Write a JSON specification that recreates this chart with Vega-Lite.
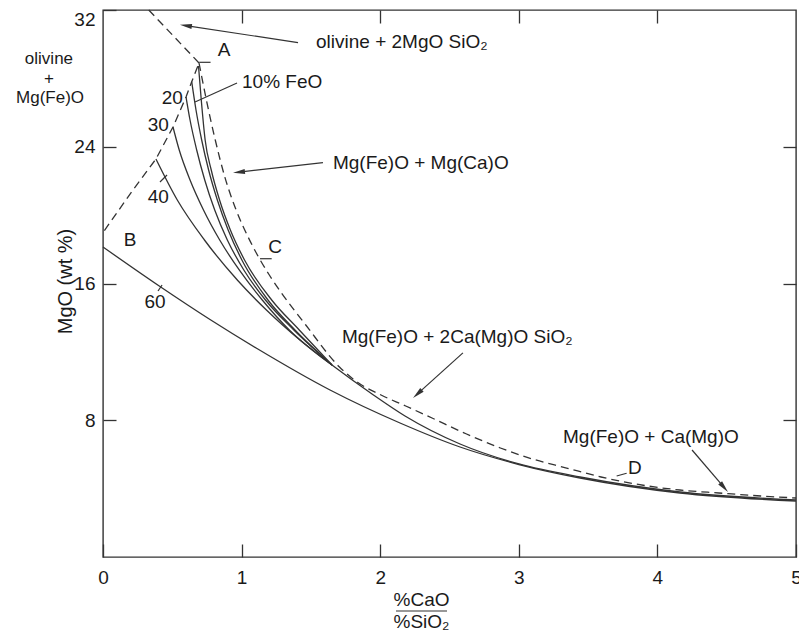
{
  "$schema": "https://vega.github.io/schema/vega-lite/v6.json",
  "width": 693,
  "height": 547,
  "autosize": "none",
  "padding": {"left": 103, "top": 10, "right": 3, "bottom": 79},
  "background": "white",
  "config": {
    "font": "Liberation Sans",
    "view": {"stroke": "#333", "strokeWidth": 1.4},
    "axis": {
      "grid": false, "domain": false, "tickColor": "#333", "tickWidth": 1.3, "tickSize": -13,
      "labelFont": "Liberation Sans", "labelFontSize": 19, "labelColor": "#1a1a1a",
      "titleFont": "Liberation Sans", "titleFontSize": 19, "titleFontWeight": "normal", "titleColor": "#1a1a1a"
    }
  },
  "datasets": {
    "solid": [
      {"curve": "60", "x": 0.0, "y": 18.135}, {"curve": "60", "x": 0.411, "y": 15.824}, {"curve": "60", "x": 0.772, "y": 13.894},
      {"curve": "60", "x": 1.111, "y": 12.197}, {"curve": "60", "x": 1.638, "y": 9.77}, {"curve": "60", "x": 2.143, "y": 7.839},
      {"curve": "60", "x": 2.576, "y": 6.435}, {"curve": "60", "x": 3.001, "y": 5.411}, {"curve": "60", "x": 3.442, "y": 4.622},
      {"curve": "60", "x": 4.163, "y": 3.744}, {"curve": "60", "x": 5.0, "y": 3.276},
      {"curve": "40", "x": 0.382, "y": 23.283}, {"curve": "40", "x": 0.536, "y": 20.885}, {"curve": "40", "x": 0.732, "y": 18.545},
      {"curve": "40", "x": 0.969, "y": 16.205}, {"curve": "40", "x": 1.179, "y": 14.45}, {"curve": "40", "x": 1.421, "y": 12.695},
      {"curve": "40", "x": 1.652, "y": 11.232}, {"curve": "40", "x": 1.941, "y": 9.536}, {"curve": "40", "x": 2.179, "y": 8.249},
      {"curve": "40", "x": 2.576, "y": 6.611}, {"curve": "40", "x": 3.001, "y": 5.441}, {"curve": "40", "x": 3.442, "y": 4.68},
      {"curve": "40", "x": 4.163, "y": 3.803}, {"curve": "40", "x": 5.0, "y": 3.334},
      {"curve": "30", "x": 0.505, "y": 25.155}, {"curve": "30", "x": 0.55, "y": 23.81}, {"curve": "30", "x": 0.628, "y": 22.055},
      {"curve": "30", "x": 0.725, "y": 20.3}, {"curve": "30", "x": 0.842, "y": 18.545}, {"curve": "30", "x": 0.983, "y": 16.79},
      {"curve": "30", "x": 1.149, "y": 15.035}, {"curve": "30", "x": 1.344, "y": 13.28}, {"curve": "30", "x": 1.652, "y": 11.232},
      {"curve": "20", "x": 0.599, "y": 26.91}, {"curve": "20", "x": 0.628, "y": 25.565}, {"curve": "20", "x": 0.676, "y": 23.81},
      {"curve": "20", "x": 0.734, "y": 22.055}, {"curve": "20", "x": 0.806, "y": 20.3}, {"curve": "20", "x": 0.897, "y": 18.545},
      {"curve": "20", "x": 1.016, "y": 16.79}, {"curve": "20", "x": 1.172, "y": 15.035}, {"curve": "20", "x": 1.377, "y": 13.28},
      {"curve": "20", "x": 1.652, "y": 11.232},
      {"curve": "10", "x": 0.64, "y": 27.805}, {"curve": "10", "x": 0.671, "y": 26.149}, {"curve": "10", "x": 0.712, "y": 24.395},
      {"curve": "10", "x": 0.762, "y": 22.64}, {"curve": "10", "x": 0.825, "y": 20.885}, {"curve": "10", "x": 0.903, "y": 19.13},
      {"curve": "10", "x": 1.002, "y": 17.375}, {"curve": "10", "x": 1.19, "y": 15.035}, {"curve": "10", "x": 1.385, "y": 13.28},
      {"curve": "10", "x": 1.652, "y": 11.232},
      {"curve": "0", "x": 0.689, "y": 28.724}, {"curve": "0", "x": 0.709, "y": 26.735}, {"curve": "0", "x": 0.737, "y": 24.395},
      {"curve": "0", "x": 0.781, "y": 22.64}, {"curve": "0", "x": 0.841, "y": 20.885}, {"curve": "0", "x": 0.919, "y": 19.13},
      {"curve": "0", "x": 1.021, "y": 17.375}, {"curve": "0", "x": 1.217, "y": 15.035}, {"curve": "0", "x": 1.416, "y": 13.28},
      {"curve": "0", "x": 1.652, "y": 11.232}
    ],
    "dashedRight": [
      {"x": 0.693, "y": 28.899}, {"x": 0.746, "y": 26.735}, {"x": 0.81, "y": 24.395}, {"x": 0.879, "y": 22.23},
      {"x": 0.955, "y": 20.417}, {"x": 1.047, "y": 18.72}, {"x": 1.122, "y": 17.55}, {"x": 1.2, "y": 16.497},
      {"x": 1.288, "y": 15.444}, {"x": 1.463, "y": 13.572}, {"x": 1.706, "y": 11.115}, {"x": 1.844, "y": 10.179},
      {"x": 2.006, "y": 9.477}, {"x": 2.184, "y": 8.834}, {"x": 2.374, "y": 8.131}, {"x": 2.623, "y": 7.195},
      {"x": 2.867, "y": 6.377}, {"x": 3.098, "y": 5.733}, {"x": 3.345, "y": 5.206}, {"x": 3.593, "y": 4.68},
      {"x": 3.931, "y": 4.154}, {"x": 4.162, "y": 3.92}, {"x": 4.443, "y": 3.744}, {"x": 4.746, "y": 3.569},
      {"x": 5.0, "y": 3.452}
    ],
    "dashedLeft": [
      {"curve": "top", "x": 0.33, "y": 32.0}, {"curve": "top", "x": 0.693, "y": 28.899},
      {"curve": "left", "x": 0.01, "y": 19.1}, {"curve": "left", "x": 0.216, "y": 21.47}, {"curve": "left", "x": 0.382, "y": 23.283},
      {"curve": "left", "x": 0.505, "y": 25.155}, {"curve": "left", "x": 0.599, "y": 26.91}, {"curve": "left", "x": 0.64, "y": 27.805},
      {"curve": "left", "x": 0.693, "y": 28.899}
    ],
    "segs": [
      {"seg": "tickA", "x": 0.694, "y": 28.94}, {"seg": "tickA", "x": 0.776, "y": 28.94},
      {"seg": "tickC", "x": 1.133, "y": 17.45}, {"seg": "tickC", "x": 1.217, "y": 17.45},
      {"seg": "tickD", "x": 3.706, "y": 4.74}, {"seg": "tickD", "x": 3.778, "y": 4.9},
      {"seg": "tick40", "x": 0.411, "y": 21.94}, {"seg": "tick40", "x": 0.462, "y": 22.35},
      {"seg": "tick60", "x": 0.397, "y": 15.56}, {"seg": "tick60", "x": 0.426, "y": 15.91},
      {"seg": "lead10", "x": 0.664, "y": 26.62}, {"seg": "lead10", "x": 0.967, "y": 27.73},
      {"seg": "arr1", "x": 1.407, "y": 30.09}, {"seg": "arr1", "x": 0.598, "y": 31.09},
      {"seg": "arr2", "x": 1.587, "y": 23.07}, {"seg": "arr2", "x": 0.981, "y": 22.52},
      {"seg": "arr3", "x": 2.597, "y": 11.94}, {"seg": "arr3", "x": 2.269, "y": 9.54},
      {"seg": "arr4", "x": 4.25, "y": 6.26}, {"seg": "arr4", "x": 4.481, "y": 4.07},
      {"seg": "frac", "x": 2.114, "y": -3.16}, {"seg": "frac", "x": 2.482, "y": -3.16}
    ],
    "labelsCenter": [
      {"x": 0.873, "y": 29.66, "t": "A"},
      {"x": 0.195, "y": 18.545, "t": "B"},
      {"x": 1.241, "y": 18.135, "t": "C"},
      {"x": 3.838, "y": 5.207, "t": "D"},
      {"x": 0.5, "y": 26.834, "t": "20"},
      {"x": 0.399, "y": 25.272, "t": "30"},
      {"x": 0.399, "y": 21.078, "t": "40"},
      {"x": 0.375, "y": 14.935, "t": "60"}
    ],
    "labelsMargin": [
      {"x": -0.39, "y": 29.12, "t": "olivine"},
      {"x": -0.39, "y": 27.97, "t": "+"},
      {"x": -0.382, "y": 26.88, "t": "Mg(Fe)O"}
    ],
    "labelsLeft": [
      {"x": 1.003, "y": 27.788, "t": "10% FeO"},
      {"x": 1.537, "y": 30.128, "t": "olivine + 2MgO SiO₂"},
      {"x": 1.659, "y": 23.049, "t": "Mg(Fe)O + Mg(Ca)O"},
      {"x": 1.724, "y": 12.87, "t": "Mg(Fe)O + 2Ca(Mg)O SiO₂"},
      {"x": 3.319, "y": 7.02, "t": "Mg(Fe)O + Ca(Mg)O"}
    ]
  },
  "encoding": {
    "x": {"field": "x", "type": "quantitative", "scale": {"domain": [0, 5], "nice": false, "zero": false}, "axis": null},
    "y": {"field": "y", "type": "quantitative", "scale": {"domain": [0, 32], "nice": false, "zero": false}, "axis": null}
  },
  "layer": [
    {
      "data": {"name": "solid"},
      "mark": {"type": "line", "stroke": "#333", "strokeWidth": 1.3, "interpolate": "monotone"},
      "encoding": {
        "x": {"field": "x", "type": "quantitative", "scale": {"domain": [0, 5], "nice": false, "zero": false},
          "axis": {"orient": "bottom", "values": [0, 1, 2, 3, 4, 5], "labelPadding": 24, "labelFlush": false,
            "title": ["%CaO", "%SiO₂"], "titleX": 318, "titleY": 33, "titleBaseline": "top", "titleAlign": "center", "titleLineHeight": 22}},
        "y": {"field": "y", "type": "quantitative", "scale": {"domain": [0, 32], "nice": false, "zero": false},
          "axis": {"orient": "left", "values": [8, 16, 24, 32], "labelPadding": 21, "labelFlush": true,
            "title": "MgO (wt %)", "titleFontSize": 20, "titleX": -38, "titleY": 271, "titleAngle": -90, "titleBaseline": "middle", "titleAlign": "center"}},
        "detail": {"field": "curve"}
      }
    },
    {
      "data": {"name": "dashedRight"},
      "mark": {"type": "line", "stroke": "#333", "strokeWidth": 1.3, "strokeDash": [8, 5], "interpolate": "monotone"},
      "encoding": {
        "x": {"field": "x", "type": "quantitative", "scale": {"domain": [0, 5], "nice": false, "zero": false},
          "axis": {"orient": "top", "values": [1, 2, 3, 4], "labels": false, "title": null}},
        "y": {"field": "y", "type": "quantitative", "scale": {"domain": [0, 32], "nice": false, "zero": false},
          "axis": {"orient": "right", "values": [8, 16, 24], "labels": false, "title": null}}
      }
    },
    {
      "data": {"name": "dashedLeft"},
      "mark": {"type": "line", "stroke": "#333", "strokeWidth": 1.3, "strokeDash": [8, 5]},
      "encoding": {"detail": {"field": "curve"}}
    },
    {
      "data": {"name": "segs"},
      "mark": {"type": "line", "stroke": "#333", "strokeWidth": 1.2, "clip": false},
      "encoding": {"detail": {"field": "seg"}}
    },
    {
      "data": {"values": [{"x": 0.598, "y": 31.09}]},
      "mark": {"type": "point", "shape": "M0,-1L0.42,1L-0.42,1Z", "size": 144, "filled": true, "color": "#333", "opacity": 1, "angle": 278.7}
    },
    {
      "data": {"values": [{"x": 0.981, "y": 22.52}]},
      "mark": {"type": "point", "shape": "M0,-1L0.42,1L-0.42,1Z", "size": 144, "filled": true, "color": "#333", "opacity": 1, "angle": 263.7}
    },
    {
      "data": {"values": [{"x": 2.269, "y": 9.54}]},
      "mark": {"type": "point", "shape": "M0,-1L0.42,1L-0.42,1Z", "size": 144, "filled": true, "color": "#333", "opacity": 1, "angle": 228}
    },
    {
      "data": {"values": [{"x": 4.481, "y": 4.07}]},
      "mark": {"type": "point", "shape": "M0,-1L0.42,1L-0.42,1Z", "size": 144, "filled": true, "color": "#333", "opacity": 1, "angle": 139.4}
    },
    {
      "data": {"name": "labelsCenter"},
      "mark": {"type": "text", "font": "Liberation Sans", "fontSize": 19, "color": "#1a1a1a", "align": "center", "baseline": "middle", "clip": false},
      "encoding": {"text": {"field": "t"}}
    },
    {
      "data": {"name": "labelsMargin"},
      "mark": {"type": "text", "font": "Liberation Sans", "fontSize": 17, "color": "#1a1a1a", "align": "center", "baseline": "middle", "clip": false},
      "encoding": {"text": {"field": "t"}}
    },
    {
      "data": {"name": "labelsLeft"},
      "mark": {"type": "text", "font": "Liberation Sans", "fontSize": 19, "color": "#1a1a1a", "align": "left", "baseline": "middle", "clip": false},
      "encoding": {"text": {"field": "t"}}
    }
  ],
  "resolve": {"axis": {"x": "independent", "y": "independent"}}
}
